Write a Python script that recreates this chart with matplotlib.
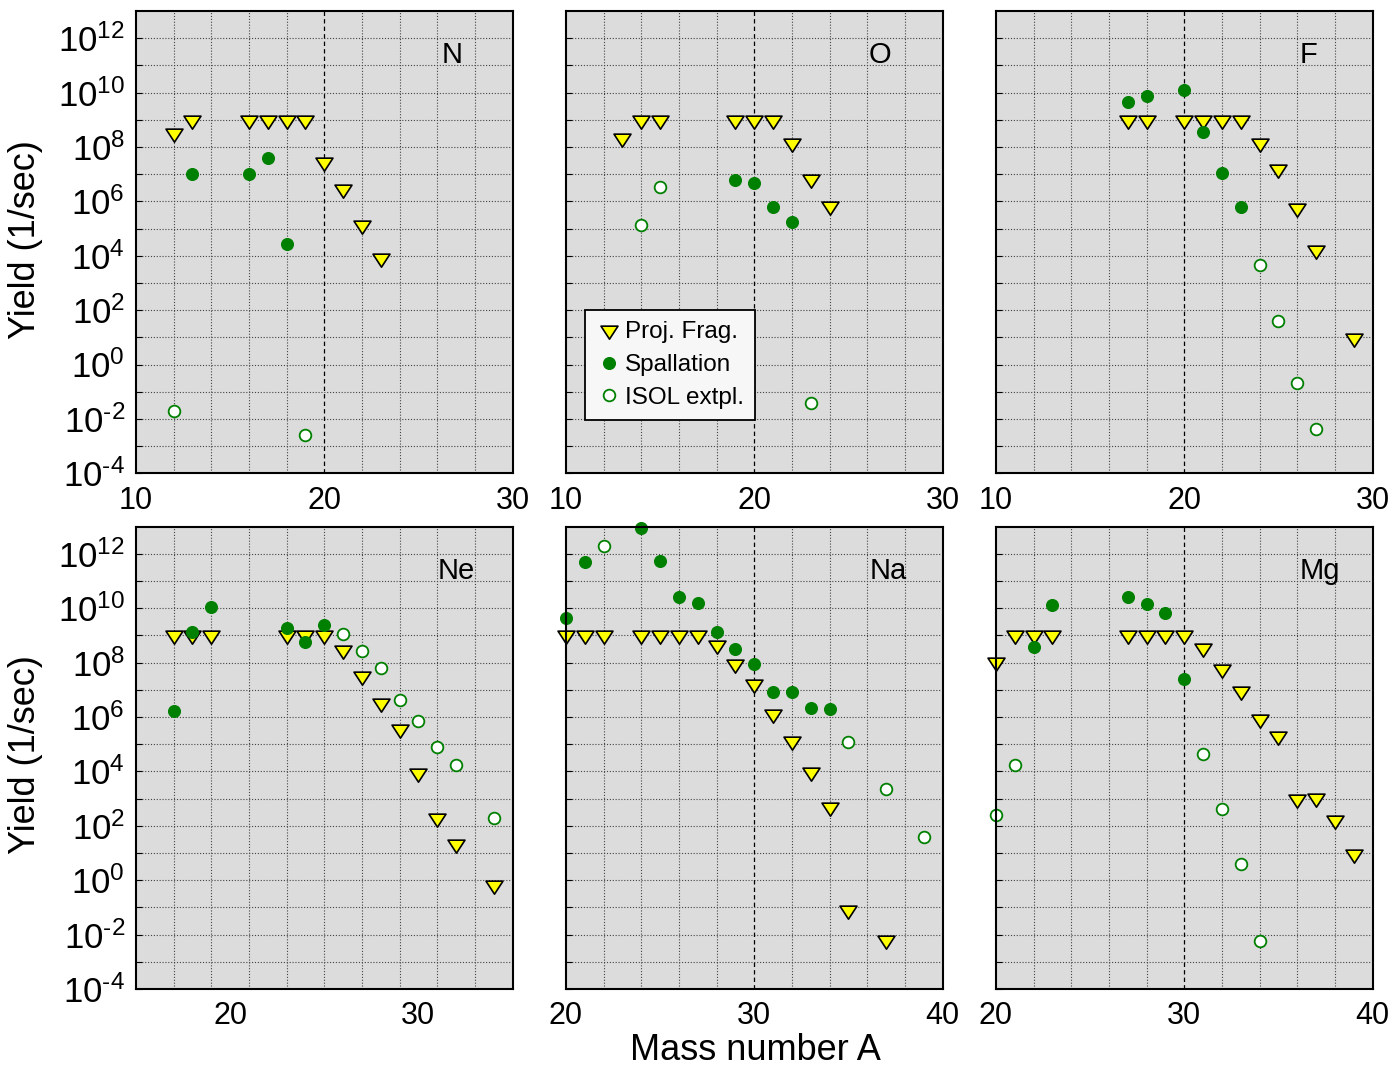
import matplotlib
matplotlib.use("Agg")
import matplotlib.pyplot as plt
from matplotlib.path import Path
from matplotlib.ticker import FixedLocator, FixedFormatter, NullFormatter

plt.rcParams['font.family'] = ['Liberation Sans', 'DejaVu Sans']
plt.rcParams['mathtext.fontset'] = 'custom'
plt.rcParams['mathtext.rm'] = 'Liberation Sans'
plt.rcParams['mathtext.it'] = 'Liberation Sans'
plt.rcParams['mathtext.bf'] = 'Liberation Sans:bold'

# ---------------- yields (1/sec) vs mass number A ----------------
# Nitrogen
N_frag_A = [12, 13, 16, 17, 18, 19, 20, 21, 22, 23]
N_frag_Y = [3.3e8, 1e9, 1e9, 1e9, 1e9, 1e9, 2.8e7, 2.8e6, 1.3e5, 8.5e3]
N_spal_A = [13, 16, 17, 18]
N_spal_Y = [1e7, 1e7, 4e7, 2.6e4]
N_isol_A = [12, 19]
N_isol_Y = [1.9e-2, 2.6e-3]

# Oxygen
O_frag_A = [13, 14, 15, 19, 20, 21, 22, 23, 24]
O_frag_Y = [2.1e8, 1e9, 1e9, 1e9, 1e9, 1e9, 1.4e8, 6.8e6, 6.6e5]
O_spal_A = [19, 20, 21, 22]
O_spal_Y = [5.9e6, 4.9e6, 6e5, 1.8e5]
O_isol_A = [14, 15, 23]
O_isol_Y = [1.3e5, 3.3e6, 3.7e-2]

# Fluorine
F_frag_A = [17, 18, 20, 21, 22, 23, 24, 25, 26, 27, 29]
F_frag_Y = [1e9, 1e9, 1e9, 1e9, 1e9, 1e9, 1.4e8, 1.5e7, 5.8e5, 1.6e4, 9.5]
F_spal_A = [17, 18, 20, 21, 22, 23]
F_spal_Y = [4.5e9, 7.2e9, 1.2e10, 3.7e8, 1.1e7, 6.3e5]
F_isol_A = [24, 25, 26, 27]
F_isol_Y = [4.6e3, 41, 0.21, 4.4e-3]

# Neon
Ne_frag_A = [17, 18, 19, 23, 24, 25, 26, 27, 28, 29, 30, 31, 32, 34]
Ne_frag_Y = [1e9, 1e9, 1e9, 1e9, 1e9, 1e9, 3e8, 3.2e7, 3.3e6, 3.5e5, 9e3, 1.9e2, 22, 0.66]
Ne_spal_A = [17, 18, 19, 23, 24, 25]
Ne_spal_Y = [1.7e6, 1.3e9, 1.1e10, 1.9e9, 5.9e8, 2.4e9]
Ne_isol_A = [26, 27, 28, 29, 30, 31, 32, 34]
Ne_isol_Y = [1.15e9, 2.6e8, 6.3e7, 4.1e6, 7.1e5, 7.9e4, 1.7e4, 1.9e2]

# Sodium
Na_frag_A = [20, 21, 22, 24, 25, 26, 27, 28, 29, 30, 31, 32, 33, 34, 35, 37]
Na_frag_Y = [1e9, 1e9, 1e9, 1e9, 1e9, 1e9, 1e9, 4.4e8, 9.3e7, 1.6e7, 1.3e6, 1.3e5,
             9.3e3, 4.8e2, 7.8e-2, 6.5e-3]
Na_spal_A = [20, 21, 24, 25, 26, 27, 28, 29, 30, 31, 32, 33, 34]
Na_spal_Y = [4.5e9, 5e11, 8.7e12, 5.6e11, 2.6e10, 1.6e10, 1.3e9, 3.3e8, 8.7e7,
             8.3e6, 8.3e6, 2.1e6, 2e6]
Na_isol_A = [22, 35, 37, 39]
Na_isol_Y = [1.9e12, 1.2e5, 2.2e3, 38]

# Magnesium
Mg_frag_A = [20, 21, 22, 23, 27, 28, 29, 30, 31, 32, 33, 34, 35, 36, 37, 38, 39]
Mg_frag_Y = [1.1e8, 1e9, 1e9, 1e9, 1e9, 1e9, 1e9, 1e9, 3.4e8, 5.9e7, 9.1e6, 8.3e5,
             2e5, 9.8e2, 1.1e3, 1.6e2, 9]
Mg_spal_A = [22, 23, 27, 28, 29, 30]
Mg_spal_Y = [3.9e8, 1.3e10, 2.7e10, 1.4e10, 6.5e9, 2.6e7]
Mg_isol_A = [20, 21, 31, 32, 33, 34]
Mg_isol_Y = [2.5e2, 1.8e4, 4.5e4, 4.2e2, 3.8, 5.7e-3]

elements = ['N', 'O', 'F', 'Ne', 'Na', 'Mg']
x_ranges = [(10, 30), (10, 30), (10, 30), (15, 35), (20, 40), (20, 40)]
y_tick_exps = list(range(-4, 13, 2))
series = {
    'N': (N_frag_A, N_frag_Y, N_spal_A, N_spal_Y, N_isol_A, N_isol_Y),
    'O': (O_frag_A, O_frag_Y, O_spal_A, O_spal_Y, O_isol_A, O_isol_Y),
    'F': (F_frag_A, F_frag_Y, F_spal_A, F_spal_Y, F_isol_A, F_isol_Y),
    'Ne': (Ne_frag_A, Ne_frag_Y, Ne_spal_A, Ne_spal_Y, Ne_isol_A, Ne_isol_Y),
    'Na': (Na_frag_A, Na_frag_Y, Na_spal_A, Na_spal_Y, Na_isol_A, Na_isol_Y),
    'Mg': (Mg_frag_A, Mg_frag_Y, Mg_spal_A, Mg_spal_Y, Mg_isol_A, Mg_isol_Y),
}


def decade_label(e):
    # plain hyphen for negative exponents
    exp = (r'\text{-}%d' % -e) if e < 0 else '%d' % e
    return r'$10^{%s}$' % exp


# downward triangle whose centroid sits on the data point
tri_path = Path([(0, -2 / 3), (-0.65, 1 / 3), (0.65, 1 / 3), (0, -2 / 3)],
                [Path.MOVETO, Path.LINETO, Path.LINETO, Path.CLOSEPOLY])

W, H = 1399, 1068
fig = plt.figure(figsize=(W / 100, H / 100), dpi=100)

col_left = [136, 566, 996]
row_bottom = [473.3, 989.0]
ax_w, ax_h = 376.5, 462.3

label_x = [0.84, 0.835, 0.83, 0.85, 0.855, 0.86]

for i, el in enumerate(elements):
    r, c = divmod(i, 3)
    ax = fig.add_axes([col_left[c] / W, 1 - row_bottom[r] / H, ax_w / W, ax_h / H])
    ax.set_facecolor('#dcdcdc')
    ax.set_yscale('log')
    x0, x1 = x_ranges[i]
    ax.set_xlim(x0, x1)
    ax.set_ylim(1e-4, 1e13)

    # grid: dotted every decade / every 2 in A, dashed at the decades of A
    for e in range(-3, 13):
        ax.axhline(10.0 ** e, color='#444444', lw=0.8, ls=(0, (1, 1.6)), zorder=1)
    for a in range(x0 + 2, x1, 2):
        if a % 10 == 0:
            ax.axvline(a, color='black', lw=0.9, ls=(0, (3.5, 2.5)), zorder=1)
        else:
            ax.axvline(a, color='#444444', lw=0.8, ls=(0, (1, 1.6)), zorder=1)

    fa, fy, sa, sy, ia, iy = series[el]
    ax.plot(fa, fy, ls='none', marker=tri_path, ms=12.5, mfc='#ffff00', mec='black',
            mew=1.2, clip_on=False, zorder=3, label='Proj. Frag.')
    ax.plot(sa, sy, ls='none', marker='o', ms=8.4, mfc='#008000', mec='#008000',
            mew=1.0, clip_on=False, zorder=4, label='Spallation')
    ax.plot(ia, iy, ls='none', marker='o', ms=8.4, mfc='white', mec='#008000',
            mew=1.3, clip_on=False, zorder=5, label='ISOL extpl.')

    first_major = x0 if x0 % 10 == 0 else x0 + (10 - x0 % 10)
    ax.xaxis.set_major_locator(FixedLocator(list(range(first_major, x1 + 1, 10))))
    ax.xaxis.set_minor_locator(FixedLocator([]))
    ax.yaxis.set_major_locator(FixedLocator([10.0 ** e for e in y_tick_exps]))
    ax.yaxis.set_minor_locator(FixedLocator([10.0 ** e for e in range(-3, 13, 2)]))
    ax.yaxis.set_minor_formatter(NullFormatter())
    if c == 0:
        ax.yaxis.set_major_formatter(FixedFormatter([decade_label(e) for e in y_tick_exps]))
    else:
        ax.yaxis.set_major_formatter(NullFormatter())
    ax.tick_params(axis='both', which='both', direction='in', length=4, width=0.8,
                   colors='black')
    ax.tick_params(axis='x', length=0, pad=9, labelsize=22)
    ax.tick_params(axis='y', pad=8, labelsize=25)
    for s in ax.spines.values():
        s.set_linewidth(1.5)
        s.set_zorder(6)

    ax.text(label_x[i], 0.905, el, transform=ax.transAxes, ha='center', va='center',
            fontsize=21)

    if el == 'O':
        leg = ax.legend(loc='upper left', bbox_to_anchor=(0.05, 0.353), fontsize=17.5,
                        frameon=True, fancybox=False, edgecolor='black',
                        facecolor='#f7f7f7', framealpha=1, borderpad=0.45,
                        labelspacing=0.45, handletextpad=0.1, handlelength=1.1,
                        borderaxespad=0)
        leg.get_frame().set_linewidth(1.3)
        leg.set_zorder(7)

fig.text(26 / W, 1 - 240 / H, 'Yield (1/sec)', rotation=90, ha='center', va='center',
         fontsize=26)
fig.text(26 / W, 1 - 755 / H, 'Yield (1/sec)', rotation=90, ha='center', va='center',
         fontsize=26)
fig.text(755 / W, 1 - 1050 / H, 'Mass number A', ha='center', va='center', fontsize=26)

fig.savefig('out.png', dpi=100, facecolor='white')
